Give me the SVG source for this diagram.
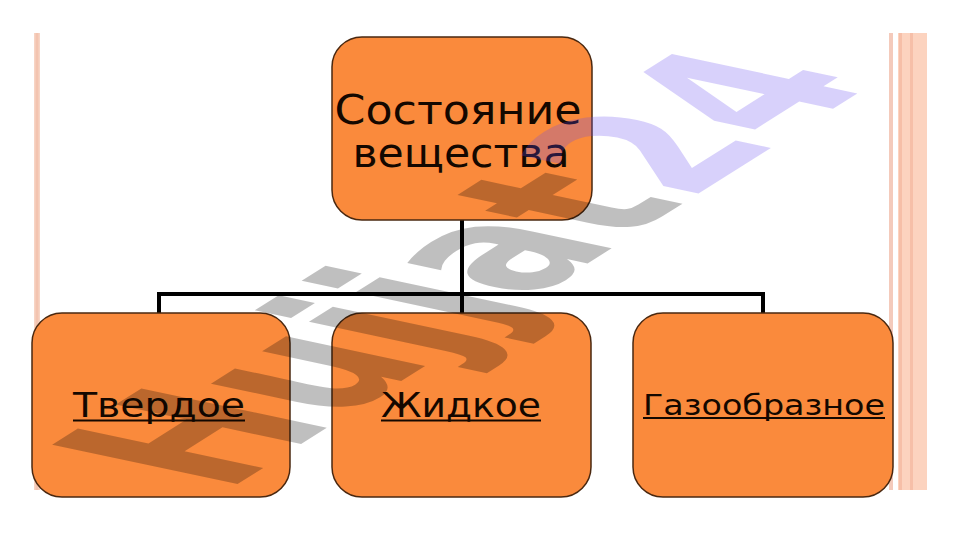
<svg xmlns="http://www.w3.org/2000/svg" width="961" height="540" viewBox="0 0 961 540">
<style>
.box{fill:#fa8a3c;stroke:#4a2810;stroke-width:1.5}
.lbl{font-family:"DejaVu Sans","Noto Sans",sans-serif;fill:#140800}
.conn{stroke:#000;stroke-width:4;fill:none;stroke-linecap:square}
.wm{font-family:"DejaVu Sans","Liberation Sans",sans-serif;font-weight:bold;font-size:100px}
</style>
<rect width="961" height="540" fill="#ffffff"/>
<g id="page-border">
<rect x="34" y="33" width="6" height="457" fill="#f7d4c4"/>
<rect x="35.5" y="33" width="3" height="457" fill="#f3c4b0"/>
<rect x="889" y="33" width="4" height="457" fill="#f4cabb"/>
<rect x="898" y="33" width="29" height="457" fill="#fcd3bf"/>
<rect x="899" y="33" width="3" height="457" fill="#f6bfa8"/>
<rect x="910" y="33" width="3" height="457" fill="#f6bfa8"/>
</g>
<g id="connectors">
<line class="conn" x1="462" y1="220" x2="462" y2="313"/>
<line class="conn" x1="159" y1="294" x2="763" y2="294"/>
<line class="conn" x1="159" y1="294" x2="159" y2="313"/>
<line class="conn" x1="763" y1="294" x2="763" y2="313"/>
</g>
<g id="node-root">
<rect class="box" x="332" y="37" width="260" height="183" rx="30" ry="30"/>
<text class="lbl" x="458" y="124" font-size="40" text-anchor="middle" textLength="247" lengthAdjust="spacingAndGlyphs">Состояние</text>
<text class="lbl" x="461" y="167" font-size="40" text-anchor="middle" textLength="217" lengthAdjust="spacingAndGlyphs">вещества</text>
</g>
<g id="node-solid">
<rect class="box" x="32" y="313" width="258" height="184" rx="30" ry="30"/>
<text class="lbl" x="73" y="417" font-size="33" textLength="172" lengthAdjust="spacingAndGlyphs">Твердое</text>
<rect x="73" y="419.5" width="172" height="2" fill="#140800"/>
</g>
<g id="node-liquid">
<rect class="box" x="332" y="313" width="259" height="184" rx="30" ry="30"/>
<text class="lbl" x="381" y="417" font-size="33" textLength="160" lengthAdjust="spacingAndGlyphs">Жидкое</text>
<rect x="381" y="419.5" width="160" height="2" fill="#140800"/>
</g>
<g id="node-gas">
<rect class="box" x="633" y="313" width="260" height="184" rx="30" ry="30"/>
<text class="lbl" x="643" y="415" font-size="28" textLength="242" lengthAdjust="spacingAndGlyphs">Газообразное</text>
<rect x="643" y="417" width="242" height="2" fill="#140800"/>
</g>
<g id="watermark">
<text class="wm" transform="matrix(1.366,-0.861,2.543,0.541,225,492)"><tspan fill="#000" fill-opacity="0.25">Hujjat</tspan><tspan fill="#6446f0" fill-opacity="0.25">24</tspan></text>
</g>
</svg>
